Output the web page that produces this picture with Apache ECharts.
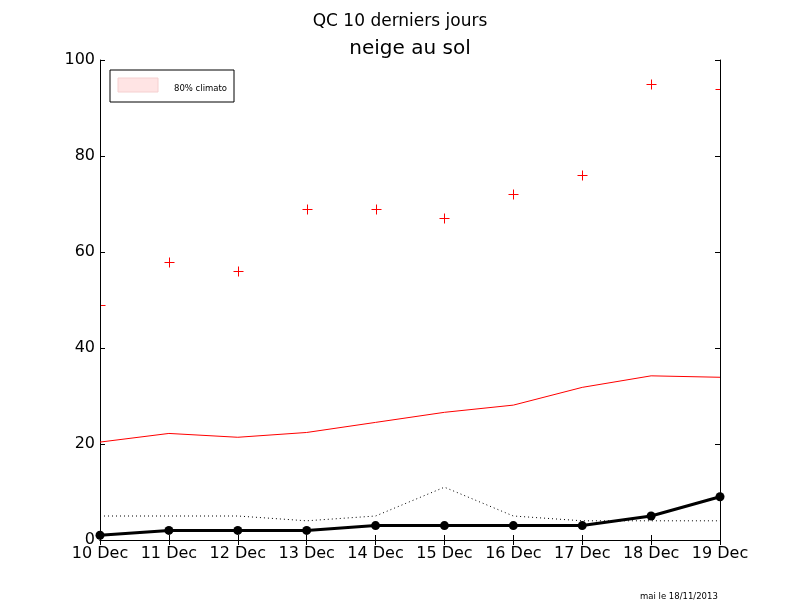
<!DOCTYPE html>
<html>
<head>
<meta charset="utf-8">
<script src="https://cdn.jsdelivr.net/npm/echarts@6/dist/echarts.min.js"></script>
<style>
  html, body { margin: 0; padding: 0; background: #fff; }
  #chart { width: 800px; height: 600px; }
</style>
</head>
<body>
<div id="chart"></div>
<script>
// dates
var days = ['10 Dec', '11 Dec', '12 Dec', '13 Dec', '14 Dec', '15 Dec', '16 Dec', '17 Dec', '18 Dec', '19 Dec'];
// observed snow depth (thick black)
var obs = [1, 2, 2, 2, 3, 3, 3, 3, 5, 9];
// dotted black
var dotted = [5, 5, 5, 4, 5, 11, 5, 4, 4, 4];
// red line
var redLine = [20.4, 22.2, 21.4, 22.4, 24.5, 26.6, 28.1, 31.8, 34.2, 33.9];
// red crosses
var crosses = [49, 58, 56, 69, 69, 67, 72, 76, 95, 94];
var yTicks = [0, 20, 40, 60, 80, 100];

var FONT = 'DejaVu Sans';

var chart = echarts.init(document.getElementById('chart'));

function xAxis(pos, labels) {
    return {
        type: 'category',
        position: pos,
        data: days,
        boundaryGap: false,
        axisLine: { show: true, lineStyle: { color: '#000', width: 1 } },
        axisTick: { show: true, inside: true, length: 5, interval: 0, lineStyle: { color: '#000' } },
        axisLabel: { show: labels, interval: 0, color: '#000', fontFamily: FONT, fontSize: 16, margin: 6 },
        splitLine: { show: false }
    };
}

function yAxis(pos, labels) {
    return {
        type: 'value',
        position: pos,
        min: yTicks[0],
        max: yTicks[yTicks.length - 1],
        interval: 20,
        axisLine: { show: true, lineStyle: { color: '#000', width: 1 } },
        axisTick: { show: true, inside: true, length: 5, lineStyle: { color: '#000' } },
        axisLabel: { show: labels, color: '#000', fontFamily: FONT, fontSize: 16, margin: 5 },
        splitLine: { show: false }
    };
}

// plus marker, clipped to the plot area like matplotlib does
function renderCross(params, api) {
    var p = api.coord([api.value(0), api.value(1)]);
    var x = Math.round(p[0]) + 0.5, y = Math.round(p[1]) + 0.5;
    var st = { stroke: '#ff0000', lineWidth: 1 };
    return {
        type: 'group',
        children: [
            { type: 'line', shape: { x1: x - 5, y1: y, x2: x + 5, y2: y }, style: st },
            { type: 'line', shape: { x1: x, y1: y - 5, x2: x, y2: y + 5 }, style: st }
        ]
    };
}

chart.setOption({
    backgroundColor: '#fff',
    animation: false,
    title: [
        { text: 'QC 10 derniers jours', left: 'center', top: 8,
          textStyle: { fontFamily: FONT, fontSize: 17, fontWeight: 'normal', color: '#000' } },
        { text: 'neige au sol', left: 405, top: 34, textAlign: 'center',
          textStyle: { fontFamily: FONT, fontSize: 20, fontWeight: 'normal', color: '#000' } }
    ],
    grid: { left: 100, right: 80, top: 60, bottom: 60, containLabel: false },
    xAxis: [xAxis('bottom', true), xAxis('top', false)],
    yAxis: [yAxis('left', true), yAxis('right', false)],
    series: [
        {
            type: 'line', data: redLine, symbol: 'none', z: 2,
            lineStyle: { color: '#ff0000', width: 1 }
        },
        {
            type: 'line', data: dotted, symbol: 'none', z: 2,
            lineStyle: { color: '#000', width: 1, type: [1, 3] }
        },
        {
            type: 'line', data: obs, symbol: 'circle', symbolSize: 9, z: 3,
            lineStyle: { color: '#000', width: 3 },
            itemStyle: { color: '#000' }
        },
        {
            type: 'custom', z: -1, clip: true,
            data: crosses.map(function (v, i) { return [i, v]; }),
            encode: { x: 0, y: 1 },
            renderItem: renderCross
        }
    ],
    graphic: [
        { type: 'rect', shape: { x: 110, y: 70, width: 124, height: 32 },
          style: { fill: '#fff', stroke: '#000', lineWidth: 1 } },
        { type: 'rect', shape: { x: 118, y: 78, width: 40, height: 14 },
          style: { fill: '#ffe4e4', stroke: '#f5d0d0', lineWidth: 1 } },
        { type: 'text', left: 174, top: 84,
          style: { text: '80% climato', font: '8.5px "DejaVu Sans"', fill: '#000' } },
        { type: 'text', left: 640, top: 592,
          style: { text: 'mai le 18/11/2013', font: '8.5px "DejaVu Sans"', fill: '#000' } }
    ]
});
</script>
</body>
</html>
